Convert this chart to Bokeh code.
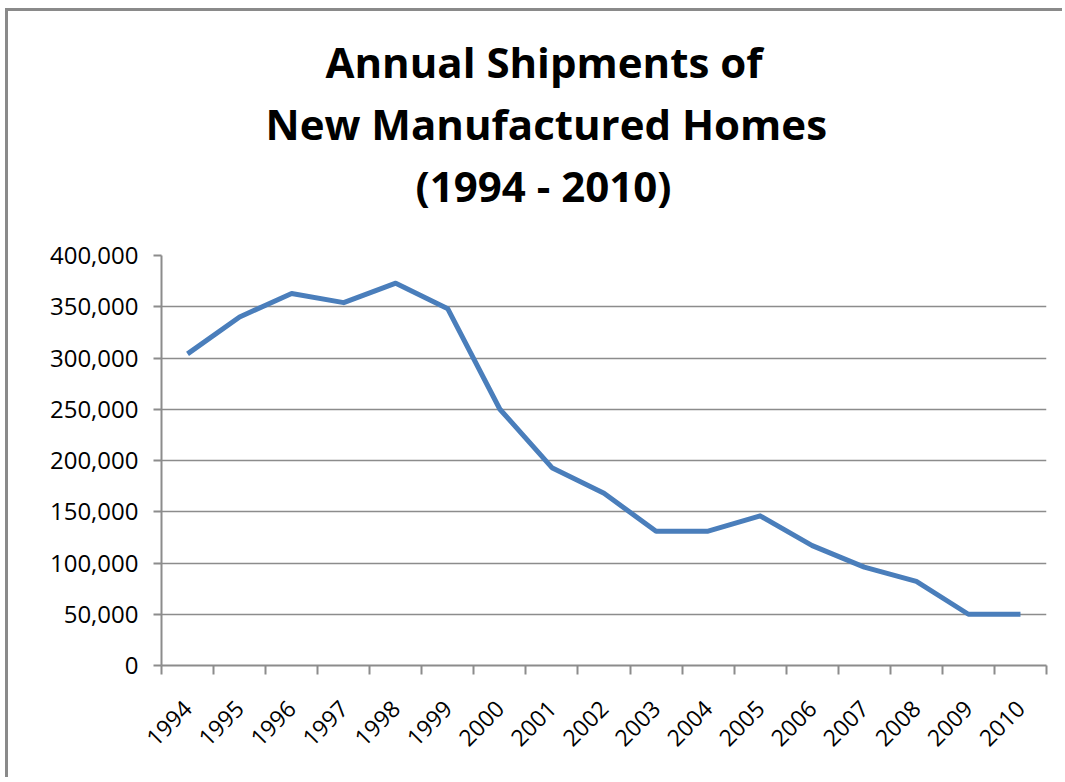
from bokeh.plotting import figure
from bokeh.models import (Range1d, FixedTicker, LinearAxis, NumeralTickFormatter, Title)
from bokeh.embed import file_html
from bokeh.resources import INLINE
import math

# ---- data ----
years = ["1994", "1995", "1996", "1997", "1998", "1999", "2000", "2001", "2002",
         "2003", "2004", "2005", "2006", "2007", "2008", "2009", "2010"]
shipments = [304000, 340000, 363000, 354000, 373000, 348000, 250000, 193000, 168000,
             131000, 131000, 146000, 117000, 96000, 82000, 50000, 50000]
y_ticks = [0, 50000, 100000, 150000, 200000, 250000, 300000, 350000, 400000]
title_lines = ["Annual Shipments of", "New Manufactured Homes", "(1994 - 2010)"]

n = len(years)
xc = [i + 0.5 for i in range(n)]
xb = list(range(n + 1))

GRAY = "#8c8c8c"
FONT = "Open Sans"

p = figure(width=1057, height=769, output_backend="svg", toolbar_location=None,
           x_range=Range1d(0, n), y_range=Range1d(0, 400000),
           x_axis_location=None, y_axis_location=None,
           min_border_left=153, min_border_right=19, min_border_top=244, min_border_bottom=115)
p.styles = {"margin-left": "5px", "margin-top": "8px",
            "border-left": "3px solid #8a8a8a", "border-top": "3px solid #8a8a8a"}
p.outline_line_color = None
p.background_fill_color = "white"
p.border_fill_color = "white"

# titles (bottom line added first so it sits next to the plot)
offsets = [164, 104, 254]
standoffs = [3, 3, 3]
paddings = [0, 0, 40]
for i in [2, 1, 0]:
    p.add_layout(Title(text=title_lines[i], align="left", text_font=FONT, text_font_style="bold",
                       text_font_size="42px", text_color="black", offset=offsets[i],
                       standoff=standoffs[i],
                       padding=dict(left=0, right=0, top=0, bottom=paddings[i])), "above")

# y axis
yax = LinearAxis(ticker=FixedTicker(ticks=y_ticks), formatter=NumeralTickFormatter(format="0,0"))
yax.axis_line_color = GRAY
yax.axis_line_width = 2
yax.major_tick_line_color = GRAY
yax.major_tick_line_width = 2
yax.major_tick_out = 8
yax.major_tick_in = 0
yax.minor_tick_line_color = None
yax.major_label_text_font = FONT
yax.major_label_text_font_size = "24px"
yax.major_label_text_color = "black"
yax.major_label_standoff = 15
p.add_layout(yax, "left")

# x axis: labels at category centres, tick marks at category boundaries
xax = LinearAxis(ticker=FixedTicker(ticks=xc, minor_ticks=xb),
                 major_label_overrides={x: y for x, y in zip(xc, years)})
xax.axis_line_color = GRAY
xax.axis_line_width = 2
xax.major_tick_line_color = None
xax.major_tick_out = 0
xax.major_tick_in = 0
xax.minor_tick_line_color = GRAY
xax.minor_tick_line_width = 2
xax.minor_tick_out = 9
xax.minor_tick_in = 0
xax.major_label_orientation = math.pi / 4
xax.major_label_text_font = FONT
xax.major_label_text_font_size = "23px"
xax.major_label_text_color = "black"
xax.major_label_standoff = 30
p.add_layout(xax, "below")

p.xgrid.visible = False
p.ygrid.ticker = FixedTicker(ticks=y_ticks)
p.ygrid.grid_line_color = GRAY
p.ygrid.grid_line_width = 1.5

p.line(xc, shipments, line_color="#4a7ebb", line_width=5, line_join="round")

open("out.html", "w").write(file_html(p, INLINE))
